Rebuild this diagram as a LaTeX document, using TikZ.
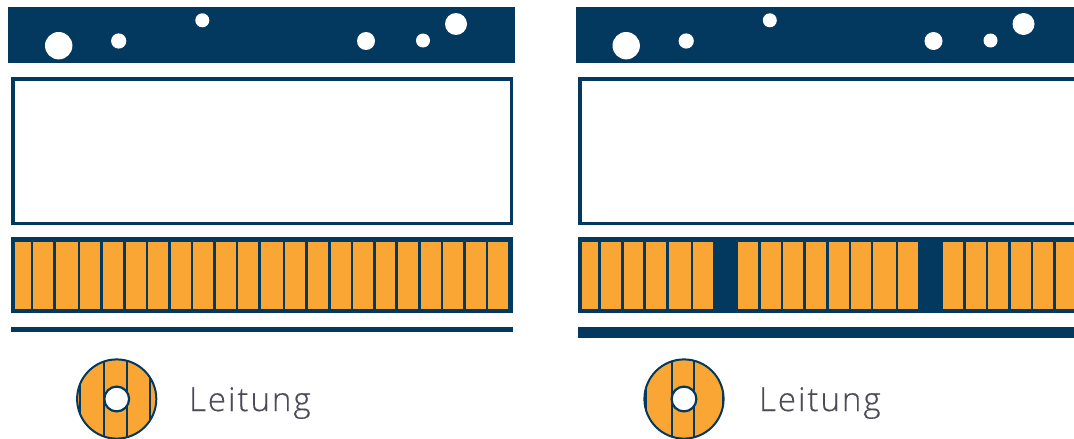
\documentclass[tikz,border=0pt]{standalone}
\usepackage{fontspec}
\newfontfamily\labelfont[LetterSpace=6,FakeBold=0.4]{Open Sans Light}
\definecolor{navy}{HTML}{03385F}
\definecolor{amber}{HTML}{FAA634}
\definecolor{labelgrey}{HTML}{4C4C58}
\tikzset{
  bar/.style={fill=navy,draw=none},
  cell/.style={fill=amber,draw=none},
  bubble/.style={fill=white,draw=none},
  wall/.style={draw=navy,line width=3.7pt,fill=white},
  wire/.style={draw=navy,line width=2pt},
  label text/.style={anchor=base west,text=labelgrey,font=\labelfont\fontsize{33}{36}\selectfont,inner sep=0pt,outer sep=0pt}
}
\newcommand{\cableicon}[5]{% cx, l1, l2, s1, s2
  \begin{scope}
    \path[clip] (#1,399) circle[radius=40];
    \fill[amber] (#1-41,358) rectangle (#1+41,440);
    \foreach \lx in {#2,#3,#4,#5} \draw[wire] (\lx,355) -- (\lx,443);
  \end{scope}
  \draw[navy,line width=2pt] (#1,399) circle[radius=39.6];
  \draw[navy,line width=2.2pt,fill=white] (#1,399) circle[radius=12.4];
}
\begin{document}
\begin{tikzpicture}[x=1pt,y=-1pt]
\useasboundingbox (0,0) rectangle (1074,439);
\clip (0,0) rectangle (1074,439);
% left panel
\fill[bar] (8.3,7) rectangle (515.2,63.3);
\foreach \cx/\cy/\r in {58.7/45.7/13.7,118.7/41/7.6,202.3/20.3/7,366/41/9,423/40.5/7,456/24/11}
  \fill[bubble] (\cx,\cy) circle[radius=\r];
\draw[wall] (12.7,78.7) rectangle (511.5,223.5);
\fill[bar] (10.8,236.8) rectangle (513.2,313.3);
\foreach \a/\b in {15.3/30.7,33.3/53.3,55.7/77.7,80.3/100.3,103/123,125.7/145.7,148.3/168.3,170.7/190.7,193.3/213.3,215.7/235.7,238.3/258.3,260.7/282.7,285.3/305.3,308/328,330.7/350.7,353.3/373.3,375.7/395.3,398/418.3,420.7/440.7,443.3/463.3,465.7/485.7,488.3/508.3}
  \fill[cell] (\a,241.5) rectangle (\b,309);
\fill[bar] (10.8,327.2) rectangle (513.2,331.8);
\cableicon{116.7}{104}{126.7}{80}{150}
\node[label text] (leitungA) at (189,411) {Leitung};
% right panel
\fill[bar] (576,7) rectangle (1080,63.3);
\foreach \cx/\cy/\r in {626.2/45.7/13.7,686.2/41/7.6,769.8/20.3/7,933.5/41/9,990.5/40.5/7,1023.5/24/11}
  \fill[bubble] (\cx,\cy) circle[radius=\r];
\draw[wall] (579.8,78.7) rectangle (1085,223.5);
\fill[bar] (578,236.8) rectangle (1080,313.3);
\foreach \a/\b in {582.3/598.3,601/621,623.7/643.3,646/666,668.7/690.7,693.3/713.3,738.3/758.3,760.7/780.7,783.3/803.3,806/826,828.7/848.7,851/871,873.3/895.5,898.3/918.3,943.3/963.3,966/986,988.3/1008.3,1011/1031,1033.3/1053.3,1056/1076}
  \fill[cell] (\a,241.5) rectangle (\b,309);
\fill[bar] (578,327.3) rectangle (1080,338.3);
\cableicon{684}{671.7}{694.3}{646}{722.7}
\node[label text] (leitungB) at (759,411) {Leitung};
\end{tikzpicture}
\end{document}
